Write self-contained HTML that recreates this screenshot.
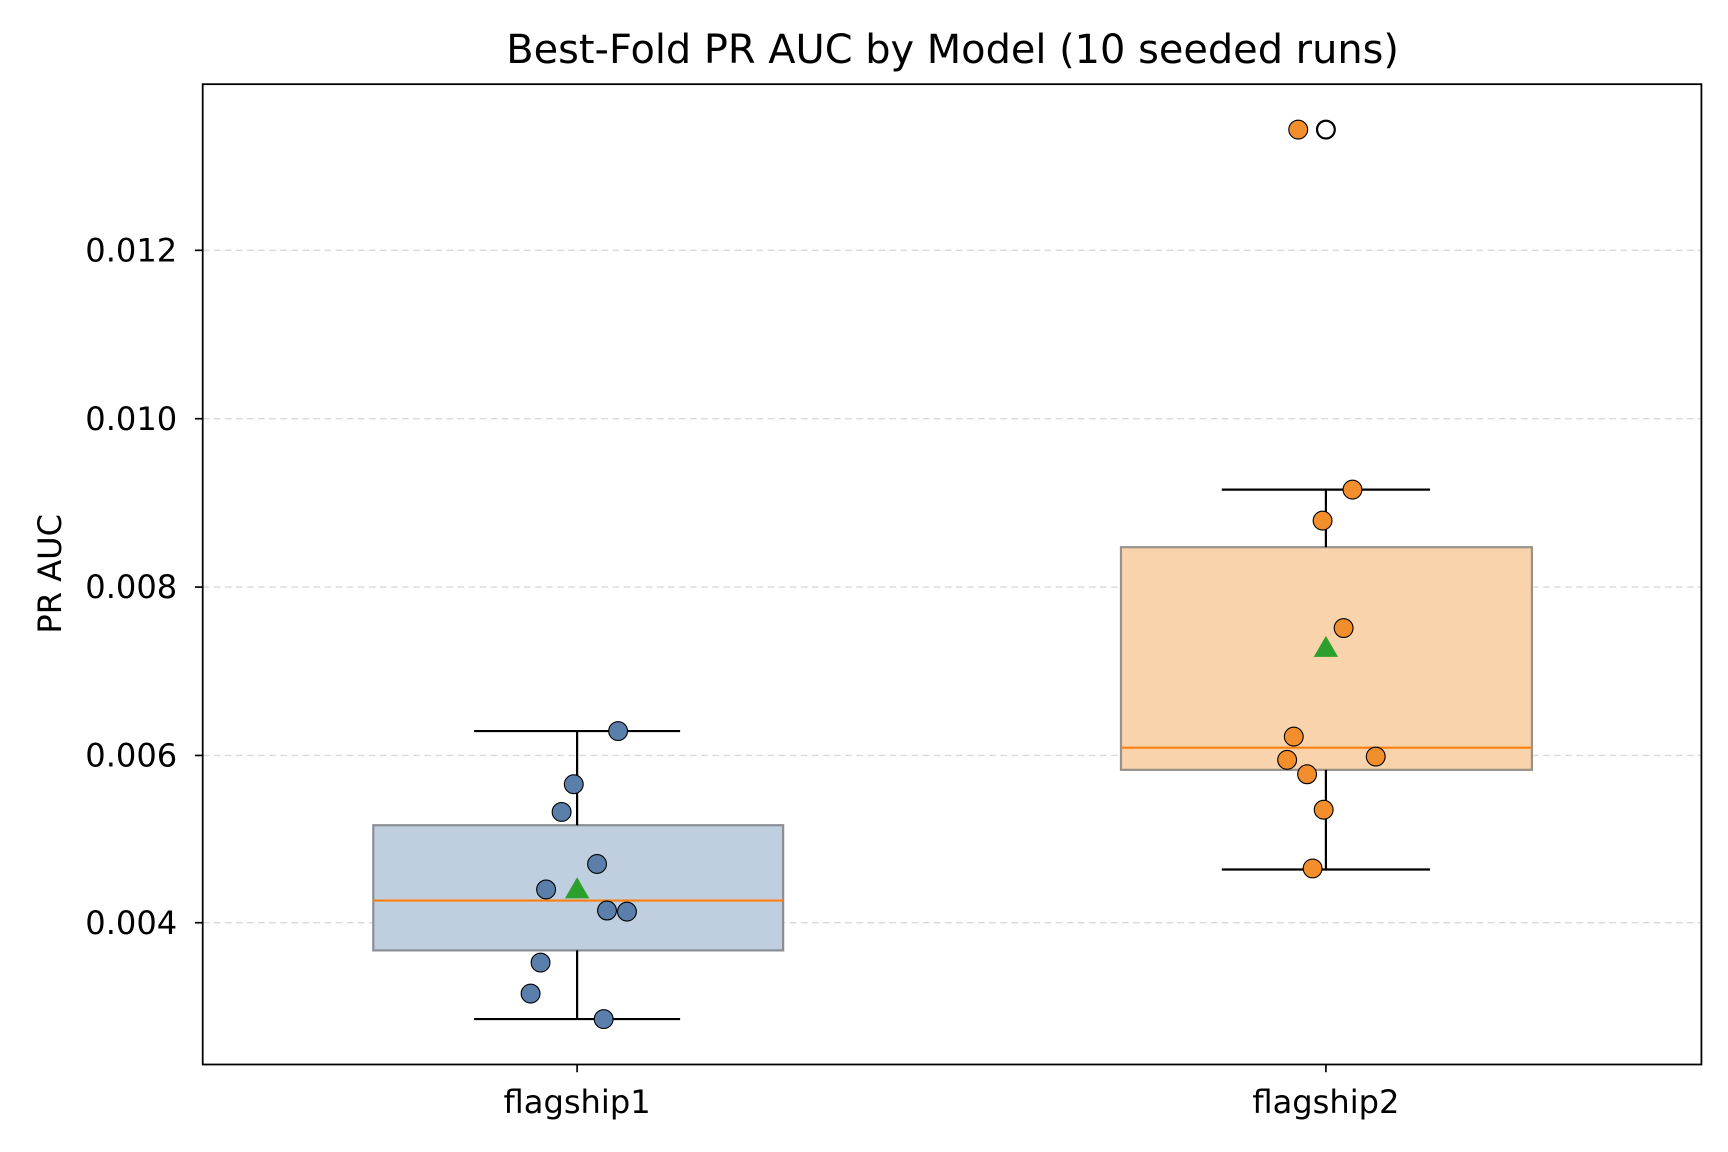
<!DOCTYPE html>
<html><head><meta charset="utf-8"><style>html,body{margin:0;padding:0;background:#fff}svg{display:block}</style></head>
<body>
<svg width="1728" height="1152" viewBox="0 0 1560 1040" xmlns="http://www.w3.org/2000/svg" font-family="'DejaVu Sans','Liberation Sans',sans-serif">
<rect width="1560" height="1040" fill="#fff"/>
<g stroke="#d9d9d9" stroke-width="1.3" stroke-dasharray="6,4">
<line x1="183" x2="1536" y1="226" y2="226"/><line x1="183" x2="1536" y1="378" y2="378"/>
<line x1="183" x2="1536" y1="530" y2="530"/><line x1="183" x2="1536" y1="682" y2="682"/>
<line x1="183" x2="1536" y1="833" y2="833"/>
</g>
<rect x="337" y="745" width="370" height="113" fill="#bfcfdf" stroke="#8a8f96" stroke-width="2"/>
<line x1="521" x2="521" y1="660" y2="745" stroke="#000" stroke-width="2"/>
<line x1="521" x2="521" y1="858" y2="920" stroke="#000" stroke-width="2"/>
<line x1="428" x2="614" y1="660" y2="660" stroke="#000" stroke-width="2"/>
<line x1="428" x2="614" y1="920" y2="920" stroke="#000" stroke-width="2"/>
<line x1="337" x2="707" y1="813" y2="813" stroke="#ff7f0e" stroke-width="2"/>
<rect x="1012" y="494" width="371" height="201" fill="#f9d3ab" stroke="#9a928a" stroke-width="2"/>
<line x1="1197" x2="1197" y1="442" y2="494" stroke="#000" stroke-width="2"/>
<line x1="1197" x2="1197" y1="695" y2="785" stroke="#000" stroke-width="2"/>
<line x1="1103" x2="1291" y1="442" y2="442" stroke="#000" stroke-width="2"/>
<line x1="1103" x2="1291" y1="785" y2="785" stroke="#000" stroke-width="2"/>
<line x1="1012" x2="1383" y1="675" y2="675" stroke="#ff7f0e" stroke-width="2"/>
<circle cx="1197" cy="117" r="8" fill="#fff" stroke="#000" stroke-width="2"/>
<polygon points="521,792 532,811 510,811" fill="#2ca02c"/>
<polygon points="1197,574 1208,593 1186,593" fill="#2ca02c"/>
<g fill="#5a7fab" stroke="#000" stroke-width="1">
<circle cx="558" cy="660" r="8.5"/><circle cx="518" cy="708" r="8.5"/><circle cx="507" cy="733" r="8.5"/>
<circle cx="539" cy="780" r="8.5"/><circle cx="493" cy="803" r="8.5"/><circle cx="548" cy="822" r="8.5"/>
<circle cx="566" cy="823" r="8.5"/><circle cx="488" cy="869" r="8.5"/><circle cx="479" cy="897" r="8.5"/>
<circle cx="545" cy="920" r="8.5"/>
</g>
<g fill="#f28e2b" stroke="#000" stroke-width="1">
<circle cx="1221" cy="442" r="8.5"/><circle cx="1194" cy="470" r="8.5"/><circle cx="1213" cy="567" r="8.5"/>
<circle cx="1168" cy="665" r="8.5"/><circle cx="1162" cy="686" r="8.5"/><circle cx="1242" cy="683" r="8.5"/>
<circle cx="1180" cy="699" r="8.5"/><circle cx="1195" cy="731" r="8.5"/><circle cx="1185" cy="784" r="8.5"/>
<circle cx="1172" cy="117" r="8.5"/>
</g>
<rect x="183" y="76" width="1353" height="885" fill="none" stroke="#000" stroke-width="1.6"/>
<g stroke="#000" stroke-width="1.5">
<line x1="176" x2="183" y1="226" y2="226"/><line x1="176" x2="183" y1="378" y2="378"/>
<line x1="176" x2="183" y1="530" y2="530"/><line x1="176" x2="183" y1="682" y2="682"/>
<line x1="176" x2="183" y1="833" y2="833"/>
<line x1="521" x2="521" y1="961" y2="968"/><line x1="1197" x2="1197" y1="961" y2="968"/>
</g>
<g font-size="29" fill="#000" text-anchor="end">
<text x="160" y="236">0.012</text><text x="160" y="388">0.010</text><text x="160" y="540">0.008</text>
<text x="160" y="692">0.006</text><text x="160" y="843">0.004</text>
</g>
<g font-size="29" fill="#000" text-anchor="middle">
<text x="521" y="1005">flagship1</text><text x="1197" y="1005">flagship2</text>
<text transform="translate(55,518) rotate(-90)">PR AUC</text>
<text x="860" y="57" font-size="36">Best-Fold PR AUC by Model (10 seeded runs)</text>
</g>
</svg>
</body></html>
